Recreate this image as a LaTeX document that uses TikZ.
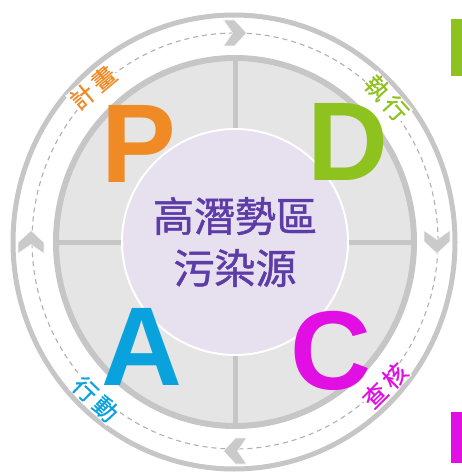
\documentclass[tikz,border=0pt]{standalone}
\usepackage{fontspec}
\newfontfamily\lsans{Liberation Sans}
\newfontfamily\cjk{Noto Sans CJK TC}[FakeBold=1.2]
\newfontfamily\cjkl{Noto Sans CJK TC}[FakeBold=0.6]
\definecolor{ringgrey}{HTML}{C6C6C6}
\definecolor{dashgrey}{HTML}{B0B0B0}
\definecolor{fillgrey}{HTML}{E5E5E5}
\definecolor{chevgrey}{HTML}{CACACA}
\definecolor{lav}{HTML}{E6E0EF}
\definecolor{purp}{HTML}{5E3CA8}
\definecolor{cP}{HTML}{F08A24}
\definecolor{cD}{HTML}{8DC21F}
\definecolor{cC}{HTML}{E10FE3}
\definecolor{cA}{HTML}{0AA2DD}
\begin{document}
\begin{tikzpicture}[x=1pt,y=-1pt,
  bigletter/.style={inner sep=0pt, anchor=base, font=\lsans\bfseries\fontsize{112}{112}\selectfont},
  arclabel/.style={fill=white, inner sep=0.5pt, font=\cjkl\fontsize{24}{24}\selectfont},
  chev/.style={fill=chevgrey, draw=white!85!chevgrey, line width=0.6pt}]
\useasboundingbox (0,0) rectangle (462,476);
% outer ring and dashed track
\draw[ringgrey, line width=5pt] (234,242) ellipse [x radius=221pt, y radius=227pt];
\draw[dashgrey, line width=1.1pt, dash pattern=on 5pt off 4pt] (235,241) ellipse [x radius=203pt, y radius=208pt];
% inner disc
\fill[fillgrey] (235,242) ellipse [x radius=179pt, y radius=184pt];
\draw[ringgrey, line width=5pt] (56,242) -- (414,242);
\draw[ringgrey, line width=5pt] (235,58) -- (235,426);
\draw[ringgrey, line width=6pt] (235,242) ellipse [x radius=179pt, y radius=184pt];
% core
\node[circle, minimum size=226pt, fill=lav, draw=white, line width=2pt, align=center,
      text=purp, font=\cjk\fontsize{41}{52}\selectfont] (core) at (235,242) {高潛勢區\\污染源};
% chevrons
\begin{scope}[shift={(235,33)}]
  \filldraw[chev] (-11.5,-13) -- (-0.5,-13) -- (11.5,0) -- (-0.5,13) -- (-11.5,13) -- (-2.5,0) -- cycle;
\end{scope}
\begin{scope}[shift={(437,242)}]
  \filldraw[chev] (-13,-11.5) -- (-13,-0.5) -- (0,11.5) -- (13,-0.5) -- (13,-11.5) -- (0,-2.5) -- cycle;
\end{scope}
\begin{scope}[shift={(235,451)}]
  \filldraw[chev] (11.5,-13) -- (0.5,-13) -- (-11.5,0) -- (0.5,13) -- (11.5,13) -- (2.5,0) -- cycle;
\end{scope}
\begin{scope}[shift={(31,242)}]
  \filldraw[chev] (-13,11.5) -- (-13,0.5) -- (0,-11.5) -- (13,0.5) -- (13,11.5) -- (0,2.5) -- cycle;
\end{scope}
% letters
\node[bigletter, text=cP] (P) at (139,182) {P};
\node[bigletter, text=cD] (D) at (348,180) {D};
\node[bigletter, text=cC] (C) at (331,389) {C};
\node[bigletter, text=cA] (A) at (142,385) {A};
% arc labels
\node[arclabel, text=cP, rotate=40] (plan) at (93,87.5) {計\hspace{4pt}畫};
\node[arclabel, text=cD, rotate=-48] (do) at (386.5,98) {執\hspace{4pt}行};
\node[arclabel, text=cC, rotate=45] (check) at (385,385.5) {查\hspace{4pt}核};
\node[arclabel, text=cA, rotate=-44] (act) at (95.5,399) {行\hspace{4pt}動};
% clipped bars at the right edge
\fill[cD] (451,19) rectangle (462,76);
\fill[cC] (451,412) rectangle (462,463);
\end{tikzpicture}
\end{document}
